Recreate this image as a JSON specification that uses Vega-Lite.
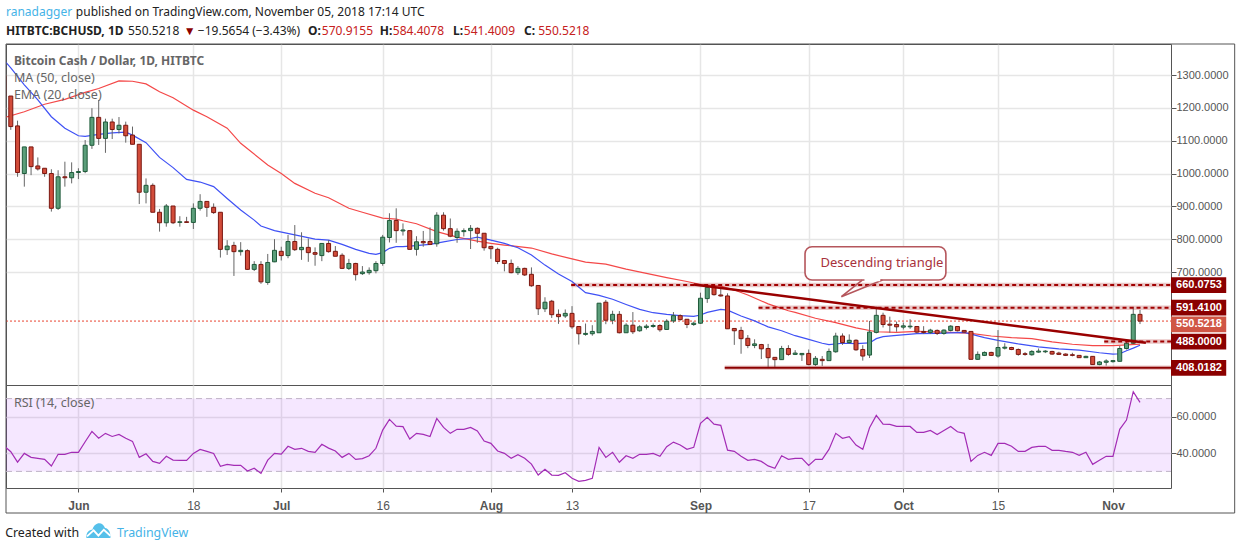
{"$schema":"https://vega.github.io/schema/vega-lite/v6.json","padding":0,"autosize":{"type":"pad"},"background":"white","spacing":0,"bounds":"flush",
"config":{"view":{"stroke":"#555555","strokeWidth":1},"axis":{"gridColor":"#e6e6e6","gridWidth":1.5,"labelFont":"Liberation Sans","labelFontSize":11,"labelColor":"#555555","tickColor":"#555555","domain":false,"title":null}},
"datasets":{
"candles":[
{"date":"2018-05-21","open":1300,"high":1300,"low":1230,"close":1236},
{"date":"2018-05-22","open":1236,"high":1236,"low":1133,"close":1143},
{"date":"2018-05-23","open":1145,"high":1161,"low":990,"close":1003},
{"date":"2018-05-24","open":1000,"high":1081,"low":960,"close":1081},
{"date":"2018-05-25","open":1081,"high":1081,"low":995,"close":1021},
{"date":"2018-05-26","open":1023,"high":1049,"low":1009,"close":1014},
{"date":"2018-05-27","open":1016,"high":1016,"low":990,"close":1000},
{"date":"2018-05-28","open":1000,"high":1013,"low":884,"close":894},
{"date":"2018-05-29","open":894,"high":1010,"low":889,"close":990},
{"date":"2018-05-30","open":990,"high":1036,"low":960,"close":987},
{"date":"2018-05-31","open":987,"high":1034,"low":970,"close":1003},
{"date":"2018-06-01","open":1003,"high":1016,"low":983,"close":1006},
{"date":"2018-06-02","open":1006,"high":1102,"low":1001,"close":1086},
{"date":"2018-06-03","open":1086,"high":1199,"low":1075,"close":1171},
{"date":"2018-06-04","open":1171,"high":1224,"low":1087,"close":1107},
{"date":"2018-06-05","open":1107,"high":1167,"low":1063,"close":1157},
{"date":"2018-06-06","open":1157,"high":1167,"low":1105,"close":1134},
{"date":"2018-06-07","open":1134,"high":1172,"low":1122,"close":1147},
{"date":"2018-06-08","open":1147,"high":1158,"low":1094,"close":1115},
{"date":"2018-06-09","open":1117,"high":1143,"low":1089,"close":1089},
{"date":"2018-06-10","open":1089,"high":1089,"low":907,"close":943},
{"date":"2018-06-11","open":943,"high":985,"low":909,"close":964},
{"date":"2018-06-12","open":964,"high":970,"low":882,"close":882},
{"date":"2018-06-13","open":882,"high":892,"low":823,"close":850},
{"date":"2018-06-14","open":850,"high":907,"low":838,"close":901},
{"date":"2018-06-15","open":901,"high":901,"low":846,"close":850},
{"date":"2018-06-16","open":851,"high":870,"low":838,"close":853},
{"date":"2018-06-17","open":853,"high":868,"low":850,"close":851},
{"date":"2018-06-18","open":851,"high":909,"low":831,"close":894},
{"date":"2018-06-19","open":894,"high":937,"low":887,"close":915},
{"date":"2018-06-20","open":915,"high":915,"low":868,"close":897},
{"date":"2018-06-21","open":897,"high":909,"low":877,"close":881},
{"date":"2018-06-22","open":882,"high":882,"low":744,"close":769},
{"date":"2018-06-23","open":768,"high":797,"low":752,"close":779},
{"date":"2018-06-24","open":781,"high":792,"low":688,"close":762},
{"date":"2018-06-25","open":762,"high":791,"low":750,"close":766},
{"date":"2018-06-26","open":765,"high":769,"low":706,"close":708},
{"date":"2018-06-27","open":708,"high":733,"low":703,"close":723},
{"date":"2018-06-28","open":723,"high":733,"low":664,"close":670},
{"date":"2018-06-29","open":668,"high":755,"low":661,"close":729},
{"date":"2018-06-30","open":731,"high":800,"low":730,"close":766},
{"date":"2018-07-01","open":763,"high":777,"low":735,"close":750},
{"date":"2018-07-02","open":750,"high":813,"low":742,"close":793},
{"date":"2018-07-03","open":793,"high":843,"low":764,"close":768},
{"date":"2018-07-04","open":768,"high":821,"low":737,"close":775},
{"date":"2018-07-05","open":775,"high":802,"low":731,"close":759},
{"date":"2018-07-06","open":759,"high":775,"low":719,"close":754},
{"date":"2018-07-07","open":750,"high":787,"low":733,"close":787},
{"date":"2018-07-08","open":787,"high":797,"low":759,"close":762},
{"date":"2018-07-09","open":763,"high":779,"low":748,"close":748},
{"date":"2018-07-10","open":751,"high":757,"low":709,"close":711},
{"date":"2018-07-11","open":711,"high":740,"low":706,"close":726},
{"date":"2018-07-12","open":726,"high":728,"low":674,"close":692},
{"date":"2018-07-13","open":695,"high":718,"low":691,"close":700},
{"date":"2018-07-14","open":698,"high":714,"low":692,"close":705},
{"date":"2018-07-15","open":704,"high":733,"low":696,"close":726},
{"date":"2018-07-16","open":726,"high":813,"low":719,"close":806},
{"date":"2018-07-17","open":805,"high":879,"low":790,"close":857},
{"date":"2018-07-18","open":857,"high":894,"low":789,"close":826},
{"date":"2018-07-19","open":825,"high":848,"low":811,"close":828},
{"date":"2018-07-20","open":826,"high":826,"low":769,"close":769},
{"date":"2018-07-21","open":769,"high":809,"low":750,"close":792},
{"date":"2018-07-22","open":793,"high":825,"low":777,"close":789},
{"date":"2018-07-23","open":793,"high":836,"low":782,"close":784},
{"date":"2018-07-24","open":786,"high":882,"low":777,"close":873},
{"date":"2018-07-25","open":873,"high":882,"low":826,"close":832},
{"date":"2018-07-26","open":832,"high":863,"low":806,"close":809},
{"date":"2018-07-27","open":805,"high":833,"low":789,"close":824},
{"date":"2018-07-28","open":823,"high":833,"low":808,"close":826},
{"date":"2018-07-29","open":826,"high":843,"low":770,"close":833},
{"date":"2018-07-30","open":833,"high":836,"low":789,"close":818},
{"date":"2018-07-31","open":818,"high":818,"low":765,"close":774},
{"date":"2018-08-01","open":778,"high":778,"low":740,"close":771},
{"date":"2018-08-02","open":769,"high":774,"low":724,"close":732},
{"date":"2018-08-03","open":735,"high":735,"low":702,"close":726},
{"date":"2018-08-04","open":726,"high":738,"low":696,"close":698},
{"date":"2018-08-05","open":698,"high":718,"low":691,"close":711},
{"date":"2018-08-06","open":711,"high":713,"low":688,"close":691},
{"date":"2018-08-07","open":693,"high":714,"low":655,"close":658},
{"date":"2018-08-08","open":659,"high":659,"low":569,"close":588},
{"date":"2018-08-09","open":588,"high":623,"low":578,"close":608},
{"date":"2018-08-10","open":611,"high":615,"low":560,"close":570},
{"date":"2018-08-11","open":571,"high":586,"low":542,"close":564},
{"date":"2018-08-12","open":566,"high":586,"low":560,"close":574},
{"date":"2018-08-13","open":574,"high":596,"low":527,"close":533},
{"date":"2018-08-14","open":534,"high":534,"low":479,"close":512},
{"date":"2018-08-15","open":510,"high":543,"low":506,"close":513},
{"date":"2018-08-16","open":512,"high":538,"low":506,"close":519},
{"date":"2018-08-17","open":515,"high":605,"low":515,"close":605},
{"date":"2018-08-18","open":608,"high":615,"low":541,"close":553},
{"date":"2018-08-19","open":553,"high":582,"low":541,"close":571},
{"date":"2018-08-20","open":571,"high":581,"low":513,"close":515},
{"date":"2018-08-21","open":515,"high":544,"low":515,"close":538},
{"date":"2018-08-22","open":538,"high":578,"low":511,"close":518},
{"date":"2018-08-23","open":521,"high":538,"low":518,"close":533},
{"date":"2018-08-24","open":531,"high":541,"low":525,"close":535},
{"date":"2018-08-25","open":534,"high":543,"low":530,"close":537},
{"date":"2018-08-26","open":537,"high":541,"low":518,"close":524},
{"date":"2018-08-27","open":525,"high":556,"low":525,"close":550},
{"date":"2018-08-28","open":551,"high":578,"low":545,"close":567},
{"date":"2018-08-29","open":567,"high":571,"low":552,"close":555},
{"date":"2018-08-30","open":556,"high":556,"low":529,"close":540},
{"date":"2018-08-31","open":540,"high":549,"low":536,"close":544},
{"date":"2018-09-01","open":544,"high":637,"low":542,"close":620},
{"date":"2018-09-02","open":619,"high":663,"low":606,"close":653},
{"date":"2018-09-03","open":653,"high":660,"low":628,"close":631},
{"date":"2018-09-04","open":630,"high":655,"low":625,"close":627},
{"date":"2018-09-05","open":627,"high":635,"low":527,"close":527},
{"date":"2018-09-06","open":528,"high":528,"low":478,"close":521},
{"date":"2018-09-07","open":522,"high":533,"low":451,"close":497},
{"date":"2018-09-08","open":498,"high":508,"low":468,"close":476},
{"date":"2018-09-09","open":476,"high":495,"low":468,"close":481},
{"date":"2018-09-10","open":479,"high":481,"low":435,"close":466},
{"date":"2018-09-11","open":467,"high":481,"low":411,"close":439},
{"date":"2018-09-12","open":440,"high":440,"low":411,"close":433},
{"date":"2018-09-13","open":433,"high":475,"low":432,"close":467},
{"date":"2018-09-14","open":467,"high":477,"low":445,"close":449},
{"date":"2018-09-15","open":449,"high":462,"low":447,"close":453},
{"date":"2018-09-16","open":448,"high":452,"low":429,"close":452},
{"date":"2018-09-17","open":452,"high":464,"low":416,"close":418},
{"date":"2018-09-18","open":418,"high":444,"low":414,"close":437},
{"date":"2018-09-19","open":434,"high":444,"low":414,"close":430},
{"date":"2018-09-20","open":430,"high":467,"low":430,"close":458},
{"date":"2018-09-21","open":457,"high":515,"low":454,"close":505},
{"date":"2018-09-22","open":505,"high":513,"low":478,"close":485},
{"date":"2018-09-23","open":485,"high":510,"low":481,"close":492},
{"date":"2018-09-24","open":492,"high":495,"low":460,"close":463},
{"date":"2018-09-25","open":464,"high":477,"low":430,"close":444},
{"date":"2018-09-26","open":447,"high":551,"low":438,"close":517},
{"date":"2018-09-27","open":516,"high":594,"low":513,"close":568},
{"date":"2018-09-28","open":568,"high":576,"low":531,"close":540},
{"date":"2018-09-29","open":541,"high":564,"low":515,"close":538},
{"date":"2018-09-30","open":540,"high":549,"low":518,"close":533},
{"date":"2018-10-01","open":532,"high":546,"low":525,"close":536},
{"date":"2018-10-02","open":533,"high":556,"low":527,"close":535},
{"date":"2018-10-03","open":534,"high":534,"low":513,"close":517},
{"date":"2018-10-04","open":519,"high":535,"low":511,"close":516},
{"date":"2018-10-05","open":516,"high":527,"low":511,"close":523},
{"date":"2018-10-06","open":522,"high":525,"low":508,"close":513},
{"date":"2018-10-07","open":513,"high":525,"low":509,"close":523},
{"date":"2018-10-08","open":522,"high":538,"low":519,"close":535},
{"date":"2018-10-09","open":534,"high":535,"low":519,"close":521},
{"date":"2018-10-10","open":522,"high":523,"low":515,"close":517},
{"date":"2018-10-11","open":519,"high":519,"low":434,"close":434},
{"date":"2018-10-12","open":434,"high":458,"low":432,"close":449},
{"date":"2018-10-13","open":446,"high":458,"low":444,"close":455},
{"date":"2018-10-14","open":455,"high":457,"low":444,"close":446},
{"date":"2018-10-15","open":444,"high":523,"low":439,"close":470},
{"date":"2018-10-16","open":468,"high":483,"low":464,"close":471},
{"date":"2018-10-17","open":470,"high":472,"low":462,"close":464},
{"date":"2018-10-18","open":464,"high":467,"low":445,"close":449},
{"date":"2018-10-19","open":451,"high":456,"low":445,"close":449},
{"date":"2018-10-20","open":448,"high":462,"low":445,"close":458},
{"date":"2018-10-21","open":456,"high":467,"low":454,"close":459},
{"date":"2018-10-22","open":457,"high":462,"low":453,"close":459},
{"date":"2018-10-23","open":458,"high":460,"low":448,"close":450},
{"date":"2018-10-24","open":453,"high":457,"low":447,"close":449},
{"date":"2018-10-25","open":450,"high":452,"low":444,"close":446},
{"date":"2018-10-26","open":448,"high":454,"low":443,"close":446},
{"date":"2018-10-27","open":446,"high":446,"low":438,"close":439},
{"date":"2018-10-28","open":439,"high":445,"low":438,"close":443},
{"date":"2018-10-29","open":443,"high":443,"low":417,"close":418},
{"date":"2018-10-30","open":418,"high":429,"low":416,"close":426},
{"date":"2018-10-31","open":425,"high":434,"low":415,"close":429},
{"date":"2018-11-01","open":427,"high":432,"low":424,"close":430},
{"date":"2018-11-02","open":428,"high":475,"low":427,"close":467},
{"date":"2018-11-03","open":467,"high":488,"low":464,"close":483},
{"date":"2018-11-04","open":483,"high":594,"low":481,"close":571},
{"date":"2018-11-05","open":570.92,"high":584.41,"low":541.4,"close":550.52}
],
"blue":[
{"date":"2018-05-21","price":1345},{"date":"2018-05-22","price":1322},{"date":"2018-05-24","price":1270},{"date":"2018-05-26","price":1224},{"date":"2018-05-28","price":1173},{"date":"2018-05-30","price":1138},{"date":"2018-06-01","price":1115},{"date":"2018-06-02","price":1113},{"date":"2018-06-04","price":1119},{"date":"2018-06-06","price":1124},{"date":"2018-06-08","price":1126},{"date":"2018-06-09","price":1117},{"date":"2018-06-11","price":1094},{"date":"2018-06-13","price":1049},{"date":"2018-06-15","price":1018},{"date":"2018-06-17","price":982},{"date":"2018-06-19","price":974},{"date":"2018-06-21","price":960},{"date":"2018-06-23","price":924},{"date":"2018-06-25","price":889},{"date":"2018-06-27","price":858},{"date":"2018-06-28","price":840},{"date":"2018-06-30","price":826},{"date":"2018-07-03","price":813},{"date":"2018-07-06","price":800},{"date":"2018-07-08","price":797},{"date":"2018-07-10","price":784},{"date":"2018-07-12","price":769},{"date":"2018-07-14","price":757},{"date":"2018-07-15","price":754},{"date":"2018-07-16","price":759},{"date":"2018-07-17","price":772},{"date":"2018-07-18","price":777},{"date":"2018-07-19","price":777},{"date":"2018-07-20","price":779},{"date":"2018-07-23","price":784},{"date":"2018-07-25","price":792},{"date":"2018-07-27","price":799},{"date":"2018-07-29","price":802},{"date":"2018-07-30","price":806},{"date":"2018-08-01","price":797},{"date":"2018-08-03","price":787},{"date":"2018-08-05","price":774},{"date":"2018-08-07","price":752},{"date":"2018-08-09","price":721},{"date":"2018-08-11","price":694},{"date":"2018-08-13","price":671},{"date":"2018-08-15","price":637},{"date":"2018-08-17","price":629},{"date":"2018-08-19","price":617},{"date":"2018-08-21","price":601},{"date":"2018-08-23","price":586},{"date":"2018-08-25","price":576},{"date":"2018-08-27","price":571},{"date":"2018-08-29","price":567},{"date":"2018-08-31","price":565},{"date":"2018-09-01","price":569},{"date":"2018-09-02","price":577},{"date":"2018-09-04","price":586},{"date":"2018-09-05","price":584},{"date":"2018-09-07","price":566},{"date":"2018-09-09","price":551},{"date":"2018-09-11","price":533},{"date":"2018-09-13","price":521},{"date":"2018-09-15","price":506},{"date":"2018-09-17","price":495},{"date":"2018-09-19","price":483},{"date":"2018-09-20","price":479},{"date":"2018-09-22","price":483},{"date":"2018-09-24","price":482},{"date":"2018-09-26","price":484},{"date":"2018-09-27","price":497},{"date":"2018-09-28","price":503},{"date":"2018-09-30","price":507},{"date":"2018-10-03","price":512},{"date":"2018-10-06","price":513},{"date":"2018-10-10","price":516},{"date":"2018-10-11","price":511},{"date":"2018-10-13","price":500},{"date":"2018-10-15","price":492},{"date":"2018-10-18","price":481},{"date":"2018-10-21","price":472},{"date":"2018-10-24","price":466},{"date":"2018-10-27","price":462},{"date":"2018-10-30","price":454},{"date":"2018-11-01","price":450},{"date":"2018-11-02","price":451},{"date":"2018-11-03","price":460},{"date":"2018-11-04","price":468},{"date":"2018-11-05","price":477}
],
"red":[
{"date":"2018-05-21","price":1170},{"date":"2018-05-24","price":1188},{"date":"2018-05-27","price":1211},{"date":"2018-05-30","price":1226},{"date":"2018-06-02","price":1247},{"date":"2018-06-04","price":1259},{"date":"2018-06-07","price":1282},{"date":"2018-06-09","price":1281},{"date":"2018-06-11","price":1273},{"date":"2018-06-13","price":1249},{"date":"2018-06-15","price":1231},{"date":"2018-06-18","price":1193},{"date":"2018-06-20","price":1173},{"date":"2018-06-23","price":1138},{"date":"2018-06-25","price":1092},{"date":"2018-06-29","price":1026},{"date":"2018-07-01","price":1000},{"date":"2018-07-03","price":970},{"date":"2018-07-06","price":940},{"date":"2018-07-08","price":926},{"date":"2018-07-11","price":894},{"date":"2018-07-13","price":882},{"date":"2018-07-16","price":864},{"date":"2018-07-18","price":861},{"date":"2018-07-19","price":856},{"date":"2018-07-21","price":847},{"date":"2018-07-24","price":823},{"date":"2018-07-27","price":806},{"date":"2018-07-30","price":794},{"date":"2018-08-01","price":787},{"date":"2018-08-03","price":782},{"date":"2018-08-07","price":773},{"date":"2018-08-10","price":755},{"date":"2018-08-13","price":740},{"date":"2018-08-15","price":730},{"date":"2018-08-18","price":724},{"date":"2018-08-21","price":709},{"date":"2018-08-24","price":696},{"date":"2018-08-27","price":683},{"date":"2018-08-30","price":671},{"date":"2018-09-01","price":662},{"date":"2018-09-04","price":657},{"date":"2018-09-06","price":645},{"date":"2018-09-08","price":630},{"date":"2018-09-11","price":603},{"date":"2018-09-14","price":582},{"date":"2018-09-15","price":577},{"date":"2018-09-18","price":559},{"date":"2018-09-21","price":546},{"date":"2018-09-24","price":530},{"date":"2018-09-27","price":518},{"date":"2018-09-30","price":516},{"date":"2018-10-03","price":519},{"date":"2018-10-08","price":516},{"date":"2018-10-11","price":513},{"date":"2018-10-14","price":505},{"date":"2018-10-17","price":500},{"date":"2018-10-20","price":497},{"date":"2018-10-23","price":487},{"date":"2018-10-26","price":480},{"date":"2018-10-29","price":476},{"date":"2018-11-01","price":476},{"date":"2018-11-03","price":478},{"date":"2018-11-05","price":480}
]
},
"vconcat":[
{"width":1165,"height":341,
"encoding":{
"x":{"field":"date","type":"temporal","scale":{"type":"utc","padding":0,"domain":[{"year":2018,"month":"may","date":21,"hours":7,"utc":true},{"year":2018,"month":"nov","date":9,"hours":14,"utc":true}]},"axis":{"orient":"bottom","labels":false,"ticks":false,"grid":true,"values":[{"year":2018,"month":"jun","date":1,"utc":true},{"year":2018,"month":"jun","date":18,"utc":true},{"year":2018,"month":"jul","date":1,"utc":true},{"year":2018,"month":"jul","date":16,"utc":true},{"year":2018,"month":"aug","date":1,"utc":true},{"year":2018,"month":"aug","date":13,"utc":true},{"year":2018,"month":"sep","date":1,"utc":true},{"year":2018,"month":"sep","date":17,"utc":true},{"year":2018,"month":"oct","date":1,"utc":true},{"year":2018,"month":"oct","date":15,"utc":true},{"year":2018,"month":"nov","date":1,"utc":true}]}},
"y":{"field":"price","type":"quantitative","scale":{"domain":[355.8,1394.5],"nice":false,"zero":false},"axis":{"orient":"right","values":[700,800,900,1000,1100,1200,1300],"format":".4f","grid":true,"tickSize":5,"labelPadding":0}}
},
"layer":[
{"data":{"values":[{"date":"2018-05-21T07:00:00Z","date2":"2018-11-09T14:00:00Z","price":550.52}]},"mark":{"type":"rule","color":"#e8432f","strokeWidth":1,"strokeDash":[2,2]},"encoding":{"x2":{"field":"date2"}}},
{"data":{"name":"red"},"mark":{"type":"line","color":"#f44848","strokeWidth":1.2,"clip":true}},
{"data":{"name":"blue"},"mark":{"type":"line","color":"#3f51f5","strokeWidth":1.2,"clip":true}},
{"data":{"name":"candles"},"mark":{"type":"rule","color":"#666666","strokeWidth":1,"clip":true},"encoding":{"y":{"field":"low","type":"quantitative","scale":{"domain":[355.8,1394.5],"nice":false,"zero":false}},"y2":{"field":"high"}}},
{"data":{"name":"candles"},"mark":{"type":"bar","size":4,"strokeWidth":1,"clip":true},"encoding":{"y":{"field":"open","type":"quantitative","scale":{"domain":[355.8,1394.5],"nice":false,"zero":false}},"y2":{"field":"close"},"fill":{"condition":{"test":"datum.close>=datum.open","value":"#5b9e7a"},"value":"#d24c3a"},"stroke":{"condition":{"test":"datum.close>=datum.open","value":"#1f5a3a"},"value":"#7a1710"}}},
{"data":{"values":[{"date":"2018-08-12T21:00:00Z","date2":"2018-11-09T14:00:00Z","price":660.0753},{"date":"2018-09-09T14:00:00Z","date2":"2018-11-09T14:00:00Z","price":591.41},{"date":"2018-10-30T17:00:00Z","date2":"2018-11-09T14:00:00Z","price":488},{"date":"2018-09-04T14:00:00Z","date2":"2018-11-09T14:00:00Z","price":408.0182}]},"mark":{"type":"rule","color":"#a00000","strokeWidth":4.5,"opacity":0.22},"encoding":{"x2":{"field":"date2"}}},
{"data":{"values":[{"date":"2018-08-12T21:00:00Z","date2":"2018-11-09T14:00:00Z","price":660.0753},{"date":"2018-09-09T14:00:00Z","date2":"2018-11-09T14:00:00Z","price":591.41},{"date":"2018-10-30T17:00:00Z","date2":"2018-11-09T14:00:00Z","price":488}]},"mark":{"type":"rule","color":"#a00000","strokeWidth":2,"strokeDash":[4,3]},"encoding":{"x2":{"field":"date2"}}},
{"data":{"values":[{"date":"2018-09-04T14:00:00Z","date2":"2018-11-09T14:00:00Z","price":408.0182}]},"mark":{"type":"rule","color":"#8b0000","strokeWidth":2},"encoding":{"x2":{"field":"date2"}}},
{"data":{"values":[{"date":"2018-08-31T00:00:00Z","price":662},{"date":"2018-11-05T21:00:00Z","price":484.6}]},"mark":{"type":"line","color":"#990000","strokeWidth":2.6}},
{"data":{"values":[{"date":"2018-09-16T11:00:00Z","date2":"2018-10-07T07:00:00Z","price":675.6,"price2":777}]},"mark":{"type":"rect","fill":"white","stroke":"#b5565c","strokeWidth":1.6,"cornerRadius":7},"encoding":{"x2":{"field":"date2"},"y2":{"field":"price2"}}},
{"data":{"values":[{"date":"2018-09-24T22:00:00Z","price":675.6,"seq":1},{"date":"2018-09-21T20:00:00Z","price":624.8,"seq":2},{"date":"2018-09-27T22:00:00Z","price":675.6,"seq":3}]},"mark":{"type":"line","color":"#b5565c","strokeWidth":1.6},"encoding":{"order":{"field":"seq","type":"quantitative"}}},
{"data":{"values":[{"date":"2018-09-25T06:00:00Z","date2":"2018-09-27T14:00:00Z","price":675.6}]},"mark":{"type":"rule","color":"white","strokeWidth":2.5},"encoding":{"x2":{"field":"date2"}}},
{"data":{"values":[{"date":"2018-09-27T20:00:00Z","price":727,"label":"Descending triangle"}]},"mark":{"type":"text","font":"Noto Sans","fontSize":13,"color":"#a8323c","align":"center","baseline":"middle"},"encoding":{"text":{"field":"label"}}},
{"data":{"values":[{"date":"2018-11-09T14:00:00Z","date2":"2018-11-17T18:00:00Z","price":636,"price2":684,"tone":"level"},{"date":"2018-11-09T14:00:00Z","date2":"2018-11-17T18:00:00Z","price":567.4,"price2":615.4,"tone":"level"},{"date":"2018-11-09T14:00:00Z","date2":"2018-11-17T18:00:00Z","price":516.7,"price2":564.7,"tone":"last"},{"date":"2018-11-09T14:00:00Z","date2":"2018-11-17T18:00:00Z","price":464,"price2":512,"tone":"level"},{"date":"2018-11-09T14:00:00Z","date2":"2018-11-17T18:00:00Z","price":384,"price2":432,"tone":"level"}]},"mark":{"type":"rect"},"encoding":{"x2":{"field":"date2"},"y2":{"field":"price2"},"fill":{"field":"tone","type":"nominal","scale":{"domain":["level","last"],"range":["#8b0000","#d05645"]},"legend":null}}},
{"data":{"values":[{"date":"2018-11-10T08:00:00Z","price":660,"label":"660.0753"},{"date":"2018-11-10T08:00:00Z","price":591.4,"label":"591.4100"},{"date":"2018-11-10T08:00:00Z","price":540.7,"label":"550.5218"},{"date":"2018-11-10T08:00:00Z","price":488,"label":"488.0000"},{"date":"2018-11-10T08:00:00Z","price":408,"label":"408.0182"}]},"mark":{"type":"text","font":"Liberation Sans","fontSize":11,"fontWeight":"bold","color":"white","align":"left","baseline":"middle"},"encoding":{"text":{"field":"label"}}},
{"data":{"values":[{"date":"2018-05-22T11:00:00Z","price":1343.6,"label":"Bitcoin Cash / Dollar, 1D, HITBTC"}]},"mark":{"type":"text","font":"Noto Sans","fontSize":12,"fontWeight":"bold","color":"#666666","align":"left","baseline":"middle"},"encoding":{"text":{"field":"label"}}},
{"data":{"values":[{"date":"2018-05-22T11:00:00Z","price":1291.8,"label":"MA (50, close)"},{"date":"2018-05-22T11:00:00Z","price":1239,"label":"EMA (20, close)"}]},"mark":{"type":"text","font":"Noto Sans","fontSize":12.5,"color":"#666666","align":"left","baseline":"middle"},"encoding":{"text":{"field":"label"}}},
{"data":{"values":[{"date":"2018-05-21T07:00:00Z","price":1491.9,"label":"ranadagger","tone":"link"},{"date":"2018-05-31T15:00:00Z","price":1491.9,"label":"published on TradingView.com, November 05, 2018 17:14 UTC","tone":"ink"},{"date":"2018-06-08T08:00:00Z","price":1434,"label":"550.5218","tone":"ink"},{"date":"2018-06-16T14:00:00Z","price":1434,"label":"▼","tone":"drop"},{"date":"2018-06-18T16:00:00Z","price":1434,"label":"−19.5654 (−3.43%)","tone":"ink"},{"date":"2018-07-07T00:00:00Z","price":1434,"label":"570.9155","tone":"loss"},{"date":"2018-07-17T12:00:00Z","price":1434,"label":"584.4078","tone":"loss"},{"date":"2018-07-28T00:00:00Z","price":1434,"label":"541.4009","tone":"loss"},{"date":"2018-08-08T00:00:00Z","price":1434,"label":"550.5218","tone":"loss"}]},"mark":{"type":"text","font":"Noto Sans","fontSize":12,"align":"left","baseline":"middle"},"encoding":{"text":{"field":"label"},"color":{"field":"tone","type":"nominal","scale":{"domain":["link","ink","drop","loss"],"range":["#45b3e7","#222222","#8b0000","#c62020"]},"legend":null}}},
{"data":{"values":[{"date":"2018-05-21T07:00:00Z","price":1434,"label":"HITBTC:BCHUSD, 1D"},{"date":"2018-07-04T23:00:00Z","price":1434,"label":"O:"},{"date":"2018-07-15T14:00:00Z","price":1434,"label":"H:"},{"date":"2018-07-26T10:00:00Z","price":1434,"label":"L:"},{"date":"2018-08-05T22:00:00Z","price":1434,"label":"C:"}]},"mark":{"type":"text","font":"Noto Sans","fontSize":12,"fontWeight":"bold","color":"#222222","align":"left","baseline":"middle"},"encoding":{"text":{"field":"label"}}},
{"data":{"values":[{"date":"2018-05-21T07:00:00Z","date2":"2018-11-19T00:00:00Z","price":-34.1,"price2":1394.5}]},"mark":{"type":"rect","filled":false,"stroke":"#555555","strokeWidth":1},"encoding":{"x2":{"field":"date2"},"y2":{"field":"price2"}}},
{"data":{"values":[{"date":"2018-05-20T13:00:00Z","date2":"2018-11-19T16:00:00Z","price":-146.8,"price2":1525.5}]},"mark":{"type":"rect","opacity":0},"encoding":{"x2":{"field":"date2"},"y2":{"field":"price2"}}}
]},
{"width":1165,"height":103,
"encoding":{
"x":{"field":"date","type":"temporal","scale":{"type":"utc","padding":0,"domain":[{"year":2018,"month":"may","date":21,"hours":7,"utc":true},{"year":2018,"month":"nov","date":9,"hours":14,"utc":true}]},"axis":{"orient":"bottom","grid":true,"tickSize":4,"labelPadding":8,"labelFontSize":12,"labelExpr":"utcdate(datum.value)===1 ? utcFormat(datum.value,'%b') : utcFormat(datum.value,'%d')","labelFontWeight":{"condition":{"test":"utcdate(datum.value)===1","value":"bold"},"value":"normal"},"values":[{"year":2018,"month":"jun","date":1,"utc":true},{"year":2018,"month":"jun","date":18,"utc":true},{"year":2018,"month":"jul","date":1,"utc":true},{"year":2018,"month":"jul","date":16,"utc":true},{"year":2018,"month":"aug","date":1,"utc":true},{"year":2018,"month":"aug","date":13,"utc":true},{"year":2018,"month":"sep","date":1,"utc":true},{"year":2018,"month":"sep","date":17,"utc":true},{"year":2018,"month":"oct","date":1,"utc":true},{"year":2018,"month":"oct","date":15,"utc":true},{"year":2018,"month":"nov","date":1,"utc":true}]}},
"y":{"field":"value","type":"quantitative","scale":{"domain":[20.88,77.47],"nice":false,"zero":false},"axis":{"orient":"right","values":[40,60],"format":".4f","grid":true,"tickSize":5,"labelPadding":0}}
},
"layer":[
{"data":{"values":[{"date":"2018-05-21T07:00:00Z","date2":"2018-11-09T14:00:00Z","value":30,"value2":70}]},"mark":{"type":"rect","fill":"#9915ff","opacity":0.1},"encoding":{"x2":{"field":"date2"},"y2":{"field":"value2"}}},
{"data":{"values":[{"date":"2018-05-21T07:00:00Z","date2":"2018-11-09T14:00:00Z","value":70},{"date":"2018-05-21T07:00:00Z","date2":"2018-11-09T14:00:00Z","value":30}]},"mark":{"type":"rule","color":"#bfb3c6","strokeWidth":1,"strokeDash":[6,4]},"encoding":{"x2":{"field":"date2"}}},
{"data":{"values":[
{"date":"2018-05-21","value":44},{"date":"2018-05-22","value":40.8},{"date":"2018-05-23","value":35.1},{"date":"2018-05-24","value":39.9},{"date":"2018-05-25","value":37.7},{"date":"2018-05-26","value":37.2},{"date":"2018-05-27","value":36.6},{"date":"2018-05-28","value":33},{"date":"2018-05-29","value":39.4},{"date":"2018-05-30","value":39.4},{"date":"2018-05-31","value":40.5},
{"date":"2018-06-01","value":40.5},{"date":"2018-06-02","value":46.3},{"date":"2018-06-03","value":52},{"date":"2018-06-04","value":48.2},{"date":"2018-06-05","value":50.9},{"date":"2018-06-06","value":49.2},{"date":"2018-06-07","value":50.3},{"date":"2018-06-08","value":48.2},{"date":"2018-06-09","value":46.5},{"date":"2018-06-10","value":37.7},{"date":"2018-06-11","value":39.7},{"date":"2018-06-12","value":35.5},{"date":"2018-06-13","value":34.4},{"date":"2018-06-14","value":38.3},{"date":"2018-06-15","value":36.2},{"date":"2018-06-16","value":36.1},{"date":"2018-06-17","value":36.1},{"date":"2018-06-18","value":39.9},{"date":"2018-06-19","value":42.1},{"date":"2018-06-20","value":41},{"date":"2018-06-21","value":39.9},{"date":"2018-06-22","value":32.8},{"date":"2018-06-23","value":33.9},{"date":"2018-06-24","value":33.3},{"date":"2018-06-25","value":33.3},{"date":"2018-06-26","value":30.2},{"date":"2018-06-27","value":31.7},{"date":"2018-06-28","value":28.9},{"date":"2018-06-29","value":36.2},{"date":"2018-06-30","value":39.9},
{"date":"2018-07-01","value":39.5},{"date":"2018-07-02","value":43.8},{"date":"2018-07-03","value":42.1},{"date":"2018-07-04","value":42.7},{"date":"2018-07-05","value":41},{"date":"2018-07-06","value":40.5},{"date":"2018-07-07","value":44.9},{"date":"2018-07-08","value":42.8},{"date":"2018-07-09","value":41.2},{"date":"2018-07-10","value":37.7},{"date":"2018-07-11","value":39.9},{"date":"2018-07-12","value":36.6},{"date":"2018-07-13","value":37},{"date":"2018-07-14","value":38.6},{"date":"2018-07-15","value":42.7},{"date":"2018-07-16","value":52.7},{"date":"2018-07-17","value":58.6},{"date":"2018-07-18","value":54.9},{"date":"2018-07-19","value":54.6},{"date":"2018-07-20","value":47.8},{"date":"2018-07-21","value":50.9},{"date":"2018-07-22","value":50.3},{"date":"2018-07-23","value":49.2},{"date":"2018-07-24","value":59.1},{"date":"2018-07-25","value":54.2},{"date":"2018-07-26","value":50.9},{"date":"2018-07-27","value":53.1},{"date":"2018-07-28","value":53.1},{"date":"2018-07-29","value":54.2},{"date":"2018-07-30","value":52.2},{"date":"2018-07-31","value":46.7},
{"date":"2018-08-01","value":45.4},{"date":"2018-08-02","value":41.2},{"date":"2018-08-03","value":39.9},{"date":"2018-08-04","value":37.2},{"date":"2018-08-05","value":39.2},{"date":"2018-08-06","value":37.2},{"date":"2018-08-07","value":34},{"date":"2018-08-08","value":28},{"date":"2018-08-09","value":31.1},{"date":"2018-08-10","value":28},{"date":"2018-08-11","value":27.8},{"date":"2018-08-12","value":29.3},{"date":"2018-08-13","value":26.2},{"date":"2018-08-14","value":24.5},{"date":"2018-08-15","value":25.1},{"date":"2018-08-16","value":26.2},{"date":"2018-08-17","value":43.2},{"date":"2018-08-18","value":37.7},{"date":"2018-08-19","value":40.5},{"date":"2018-08-20","value":35},{"date":"2018-08-21","value":38.6},{"date":"2018-08-22","value":37.2},{"date":"2018-08-23","value":39.4},{"date":"2018-08-24","value":39.4},{"date":"2018-08-25","value":39.9},{"date":"2018-08-26","value":38.3},{"date":"2018-08-27","value":43.6},{"date":"2018-08-28","value":46.1},{"date":"2018-08-29","value":44.5},{"date":"2018-08-30","value":42.1},{"date":"2018-08-31","value":43.2},
{"date":"2018-09-01","value":56.4},{"date":"2018-09-02","value":59.7},{"date":"2018-09-03","value":56},{"date":"2018-09-04","value":55.3},{"date":"2018-09-05","value":41.7},{"date":"2018-09-06","value":41},{"date":"2018-09-07","value":38.3},{"date":"2018-09-08","value":36.1},{"date":"2018-09-09","value":36.6},{"date":"2018-09-10","value":35.5},{"date":"2018-09-11","value":33},{"date":"2018-09-12","value":31.7},{"date":"2018-09-13","value":38.6},{"date":"2018-09-14","value":36.6},{"date":"2018-09-15","value":37.2},{"date":"2018-09-16","value":37.2},{"date":"2018-09-17","value":33.3},{"date":"2018-09-18","value":36.6},{"date":"2018-09-19","value":36.6},{"date":"2018-09-20","value":42.1},{"date":"2018-09-21","value":50.9},{"date":"2018-09-22","value":48.2},{"date":"2018-09-23","value":49.1},{"date":"2018-09-24","value":44.5},{"date":"2018-09-25","value":42.1},{"date":"2018-09-26","value":54},{"date":"2018-09-27","value":60.8},{"date":"2018-09-28","value":56},{"date":"2018-09-29","value":55.8},{"date":"2018-09-30","value":54.7},
{"date":"2018-10-01","value":54.7},{"date":"2018-10-02","value":54.7},{"date":"2018-10-03","value":51.4},{"date":"2018-10-04","value":51.4},{"date":"2018-10-05","value":52.5},{"date":"2018-10-06","value":50.3},{"date":"2018-10-07","value":52.5},{"date":"2018-10-08","value":54.7},{"date":"2018-10-09","value":51.8},{"date":"2018-10-10","value":50.9},{"date":"2018-10-11","value":35.5},{"date":"2018-10-12","value":38.8},{"date":"2018-10-13","value":40.5},{"date":"2018-10-14","value":38.8},{"date":"2018-10-15","value":45.4},{"date":"2018-10-16","value":45.4},{"date":"2018-10-17","value":43.8},{"date":"2018-10-18","value":41},{"date":"2018-10-19","value":41},{"date":"2018-10-20","value":43.2},{"date":"2018-10-21","value":43.8},{"date":"2018-10-22","value":43.8},{"date":"2018-10-23","value":41.6},{"date":"2018-10-24","value":41.6},{"date":"2018-10-25","value":41},{"date":"2018-10-26","value":40.5},{"date":"2018-10-27","value":38.8},{"date":"2018-10-28","value":40.5},{"date":"2018-10-29","value":33.9},{"date":"2018-10-30","value":36.1},{"date":"2018-10-31","value":38.3},
{"date":"2018-11-01","value":38.3},{"date":"2018-11-02","value":53.1},{"date":"2018-11-03","value":58.2},{"date":"2018-11-04","value":73.8},{"date":"2018-11-05","value":67.9}
]},"mark":{"type":"line","color":"#a32cb5","strokeWidth":1.2,"clip":true}},
{"data":{"values":[{"date":"2018-05-22T11:00:00Z","value":67.6,"label":"RSI (14, close)"}]},"mark":{"type":"text","font":"Noto Sans","fontSize":12.5,"color":"#666666","align":"left","baseline":"middle"},"encoding":{"text":{"field":"label"}}},
{"data":{"values":[{"date":"2018-05-21T04:00:00Z","value":-3.8,"label":"Created with","tone":"ink"},{"date":"2018-06-06T17:00:00Z","value":-3.8,"label":"TradingView","tone":"link"}]},"mark":{"type":"text","font":"Noto Sans","fontSize":12.4,"align":"left","baseline":"middle"},"encoding":{"text":{"field":"label"},"color":{"field":"tone","type":"nominal","scale":{"domain":["link","ink"],"range":["#45b3e7","#222222"]},"legend":null}}},
{"data":{"values":[{"date":"2018-06-03T23:00:00Z","value":-2.7}]},"mark":{"type":"point","filled":true,"size":576,"color":"#55c0ea","opacity":1,"shape":"M-1,0.6 C-1.05,0.1 -0.75,-0.1 -0.5,-0.1 C-0.35,-0.75 0.35,-0.85 0.55,-0.25 C0.85,-0.25 1.05,0.2 1,0.6 Z"}},
{"data":{"values":[{"date":"2018-06-03T23:00:00Z","value":-2.7}]},"mark":{"type":"point","filled":false,"size":576,"stroke":"white","strokeWidth":1.8,"opacity":1,"shape":"M-0.95,0.45 L-0.4,-0.05 L0,0.4 L0.45,-0.1 L1,0.4"}}
]}
]}
